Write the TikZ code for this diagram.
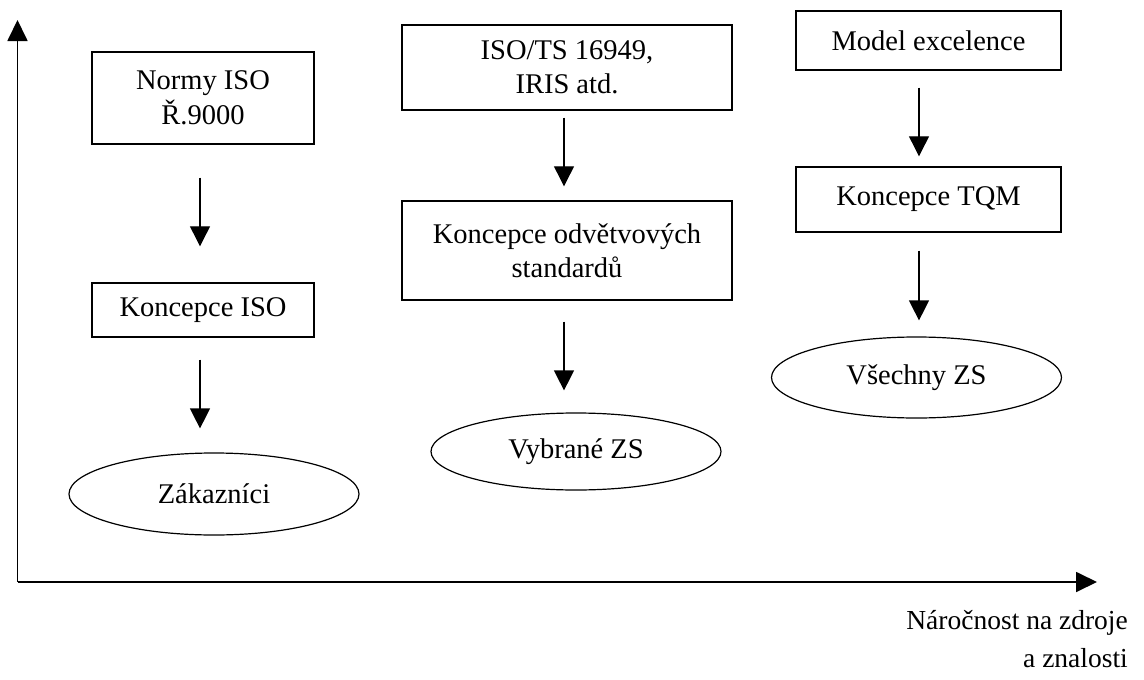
\documentclass[tikz,border=0pt]{standalone}
\usepackage{fontspec}
\setmainfont{Liberation Serif}
\usetikzlibrary{shapes.geometric,arrows.meta}
\begin{document}
\begin{tikzpicture}[x=1pt,y=-1pt,
  every node/.style={font=\fontsize{28.5}{34.5}\selectfont, inner sep=0pt, align=center},
  stepbox/.style={draw, line width=1.4pt, rectangle},
  goal/.style={draw, line width=1.2pt, ellipse, minimum width=290pt},
  flow/.style={line width=1.2pt, -{Triangle[length=20pt,width=20pt]}},
  axis/.style={line width=1.8pt, -{Triangle[length=21pt,width=20pt]}}
]
\useasboundingbox (0,0) rectangle (1144,680);

% axes
\coordinate (origin) at (17.5,582);
\coordinate (ytop) at (17.5,20);
\coordinate (xend) at (1097,582);
\draw[axis] (origin) -- (ytop);
\draw[axis] (origin) -- (xend);

% first column: ISO
\node[stepbox, minimum width=222pt, minimum height=92pt] (n1) at (203,98) {Normy ISO\\Ř.9000};
\node[stepbox, minimum width=222pt, minimum height=54pt] (n2) at (203,310) {Koncepce ISO};
\node[goal, minimum height=82pt] (n3) at (214,494) {Zákazníci};

% second column: sector standards
\node[stepbox, minimum width=330pt, minimum height=85pt] (m1) at (567,67.5) {ISO/TS 16949,\\IRIS atd.};
\node[stepbox, minimum width=330pt, minimum height=99pt] (m2) at (567,250.5) {Koncepce odvětvových\\standardů};
\node[goal, minimum height=77pt] (m3) at (576,451.5) {Vybrané ZS};

% third column: TQM
\node[stepbox, minimum width=265pt, minimum height=59pt] (t1) at (928.5,40.5) {Model excelence};
\node[stepbox, minimum width=265pt, minimum height=65pt] (t2) at (928.5,199.5) {Koncepce TQM};
\node[goal, minimum height=81pt] (t3) at (916.5,377.5) {Všechny ZS};

% arrows
\draw[flow, shorten <=33pt, shorten >=36pt] ([xshift=-3pt]n1.south) -- ([xshift=-3pt]n2.north);
\draw[flow, shorten <=22pt, shorten >=24pt] ([xshift=-3pt]n2.south) -- ([xshift=-14pt]n3.north);
\draw[flow, shorten <=7pt, shorten >=14pt] ([xshift=-3pt]m1.south) -- ([xshift=-3pt]m2.north);
\draw[flow, shorten <=21pt, shorten >=22pt] ([xshift=-3pt]m2.south) -- ([xshift=-12pt]m3.north);
\draw[flow, shorten <=17pt, shorten >=10pt] ([xshift=-9.5pt]t1.south) -- ([xshift=-9.5pt]t2.north);
\draw[flow, shorten <=18pt, shorten >=16pt] ([xshift=-9.5pt]t2.south) -- ([xshift=2.5pt]t3.north);

% axis caption
\node[anchor=base east, font=\fontsize{27.5}{33}\selectfont] (cap1) at (1128,629) {Náročnost na zdroje};
\node[anchor=base east, font=\fontsize{27.5}{33}\selectfont] (cap2) at (1128,667) {a znalosti};
\end{tikzpicture}
\end{document}
